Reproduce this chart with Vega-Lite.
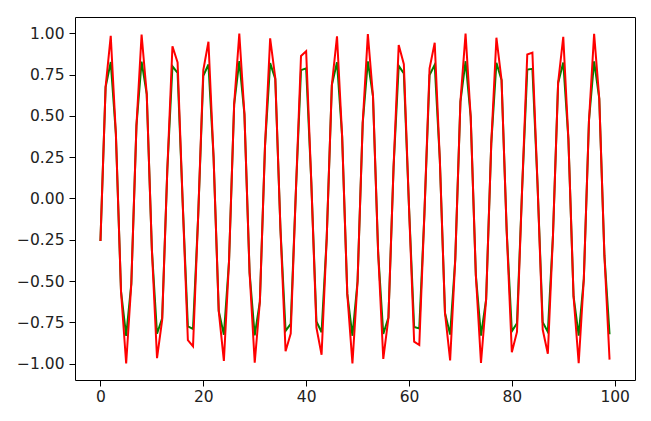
{
  "$schema": "https://vega.github.io/schema/vega-lite/v6.json",
  "width": 560,
  "height": 363,
  "autosize": {"type": "none"},
  "padding": {"left": 75, "top": 17, "right": 16, "bottom": 41},
  "background": "white",
  "config": {
    "view": {"stroke": "#000", "strokeWidth": 1},
    "axis": {
      "grid": false, "domain": false, "ticks": true, "tickColor": "#000", "tickSize": 6, "tickWidth": 1,
      "labelFont": "DejaVu Sans", "labelFontSize": 15.5, "labelColor": "#222", "title": null
    }
  },
  "data": {"values": [
    {"x":0,"red":-0.2571,"green":-0.2571},{"x":1,"red":0.6743,"green":0.6743},{"x":2,"red":0.9857,"green":0.8263},{"x":3,"red":0.3909,"green":0.3909},{"x":4,"red":-0.5634,"green":-0.5634},
    {"x":5,"red":-0.9996,"green":-0.8318},{"x":6,"red":-0.5169,"green":-0.5169},{"x":7,"red":0.4411,"green":0.4411},{"x":8,"red":0.9935,"green":0.8294},{"x":9,"red":0.6325,"green":0.6325},
    {"x":10,"red":-0.31,"green":-0.31},{"x":11,"red":-0.9677,"green":-0.8191},{"x":12,"red":-0.7355,"green":-0.7262},{"x":13,"red":0.1728,"green":0.1728},{"x":14,"red":0.9219,"green":0.8008},
    {"x":15,"red":0.8237,"green":0.7615},{"x":16,"red":-0.032,"green":-0.032},{"x":17,"red":-0.8584,"green":-0.7754},{"x":18,"red":-0.8955,"green":-0.7902},{"x":19,"red":-0.1093,"green":-0.1093},
    {"x":20,"red":0.7772,"green":0.7429},{"x":21,"red":0.9493,"green":0.8117},{"x":22,"red":0.2485,"green":0.2485},{"x":23,"red":-0.6807,"green":-0.6807},{"x":24,"red":-0.9841,"green":-0.8256},
    {"x":25,"red":-0.3827,"green":-0.3827},{"x":26,"red":0.5706,"green":0.5706},{"x":27,"red":0.9993,"green":0.8317},{"x":28,"red":0.5093,"green":0.5093},{"x":29,"red":-0.4491,"green":-0.4491},
    {"x":30,"red":-0.9945,"green":-0.8298},{"x":31,"red":-0.6254,"green":-0.6254},{"x":32,"red":0.3184,"green":0.3184},{"x":33,"red":0.9698,"green":0.8199},{"x":34,"red":0.7293,"green":0.7237},
    {"x":35,"red":-0.1815,"green":-0.1815},{"x":36,"red":-0.9254,"green":-0.8022},{"x":37,"red":-0.8187,"green":-0.7595},{"x":38,"red":0.0409,"green":0.0409},{"x":39,"red":0.863,"green":0.7772},
    {"x":40,"red":0.8915,"green":0.7886},{"x":41,"red":0.1005,"green":0.1005},{"x":42,"red":-0.7829,"green":-0.7452},{"x":43,"red":-0.9464,"green":-0.8106},{"x":44,"red":-0.2399,"green":-0.2399},
    {"x":45,"red":0.6873,"green":0.6873},{"x":46,"red":0.9825,"green":0.825},{"x":47,"red":0.3745,"green":0.3745},{"x":48,"red":-0.5779,"green":-0.5779},{"x":49,"red":-0.999,"green":-0.8316},
    {"x":50,"red":-0.5016,"green":-0.5016},{"x":51,"red":0.4569,"green":0.4569},{"x":52,"red":0.9953,"green":0.8301},{"x":53,"red":0.6188,"green":0.6188},{"x":54,"red":-0.3268,"green":-0.3268},
    {"x":55,"red":-0.9718,"green":-0.8207},{"x":56,"red":-0.7234,"green":-0.7214},{"x":57,"red":0.1902,"green":0.1902},{"x":58,"red":0.9291,"green":0.8036},{"x":59,"red":0.8139,"green":0.7576},
    {"x":60,"red":-0.0497,"green":-0.0497},{"x":61,"red":-0.8674,"green":-0.779},{"x":62,"red":-0.8874,"green":-0.787},{"x":63,"red":-0.0917,"green":-0.0917},{"x":64,"red":0.7884,"green":0.7474},
    {"x":65,"red":0.9436,"green":0.8094},{"x":66,"red":0.2313,"green":0.2313},{"x":67,"red":-0.6937,"green":-0.6937},{"x":68,"red":-0.9809,"green":-0.8244},{"x":69,"red":-0.3663,"green":-0.3663},
    {"x":70,"red":0.5851,"green":0.5851},{"x":71,"red":0.9985,"green":0.8314},{"x":72,"red":0.494,"green":0.494},{"x":73,"red":-0.4648,"green":-0.4648},{"x":74,"red":-0.9961,"green":-0.8304},
    {"x":75,"red":-0.6115,"green":-0.6115},{"x":76,"red":0.3352,"green":0.3352},{"x":77,"red":0.9739,"green":0.8216},{"x":78,"red":0.7174,"green":0.7174},{"x":79,"red":-0.1988,"green":-0.1988},
    {"x":80,"red":-0.932,"green":-0.8048},{"x":81,"red":-0.8083,"green":-0.7553},{"x":82,"red":0.0586,"green":0.0586},{"x":83,"red":0.8717,"green":0.7807},{"x":84,"red":0.8834,"green":0.7854},
    {"x":85,"red":0.0829,"green":0.0829},{"x":86,"red":-0.7938,"green":-0.7495},{"x":87,"red":-0.9405,"green":-0.8082},{"x":88,"red":-0.2227,"green":-0.2227},{"x":89,"red":0.7,"green":0.7},
    {"x":90,"red":0.9791,"green":0.8236},{"x":91,"red":0.358,"green":0.358},{"x":92,"red":-0.5922,"green":-0.5922},{"x":93,"red":-0.998,"green":-0.8312},{"x":94,"red":-0.4862,"green":-0.4862},
    {"x":95,"red":0.4727,"green":0.4727},{"x":96,"red":0.9969,"green":0.8308},{"x":97,"red":0.6047,"green":0.6047},{"x":98,"red":-0.3435,"green":-0.3435},{"x":99,"red":-0.9759,"green":-0.8224}
  ]},
  "encoding": {
    "x": {"field": "x", "type": "quantitative",
      "scale": {"domain": [-4.95, 103.95], "nice": false, "zero": false},
      "axis": {"values": [0, 20, 40, 60, 80, 100], "labelPadding": 3}}
  },
  "layer": [
    {
      "mark": {"type": "line", "color": "#008000", "strokeWidth": 2},
      "encoding": {
        "y": {"field": "green", "type": "quantitative",
          "scale": {"domain": [-1.0996, 1.0993], "nice": false, "zero": false},
          "axis": {"values": [-1, -0.75, -0.5, -0.25, 0, 0.25, 0.5, 0.75, 1], "format": ".2f", "labelPadding": 5}}
      }
    },
    {
      "mark": {"type": "line", "color": "#ff0000", "strokeWidth": 2},
      "encoding": {
        "y": {"field": "red", "type": "quantitative"}
      }
    }
  ]
}
